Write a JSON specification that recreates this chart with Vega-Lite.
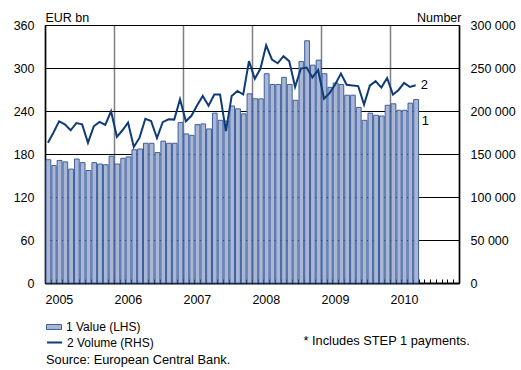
{
  "$schema": "https://vega.github.io/schema/vega-lite/v6.json",
  "autosize": "none",
  "padding": {"left": 45, "top": 25, "right": 62, "bottom": 87},
  "width": 414,
  "height": 258,
  "background": "white",
  "config": {
    "font": "Liberation Sans",
    "view": {"stroke": "#000", "strokeWidth": 1},
    "axis": {"labelFont": "Liberation Sans", "labelFontSize": 12.5, "labelColor": "#000", "titleFont": "Liberation Sans", "titleFontSize": 12.5, "titleFontWeight": "normal", "titleColor": "#000", "labelFlush": false, "labelBound": false},
    "legend": {"labelFont": "Liberation Sans", "labelFontSize": 12, "labelColor": "#000", "padding": 0}
  },
  "title": {"text": "Source: European Central Bank.", "orient": "bottom", "anchor": "start", "frame": "group", "font": "Liberation Sans", "fontSize": 12.8, "fontWeight": "normal", "color": "#000", "offset": 5, "dx": 1},
  "data": {"values": [
    {"month": "2005-01-01", "value": 172, "volume": 163000},
    {"month": "2005-02-01", "value": 164, "volume": 175000},
    {"month": "2005-03-01", "value": 171, "volume": 188000},
    {"month": "2005-04-01", "value": 169, "volume": 184500},
    {"month": "2005-05-01", "value": 159, "volume": 177600},
    {"month": "2005-06-01", "value": 173, "volume": 186000},
    {"month": "2005-07-01", "value": 168, "volume": 184500},
    {"month": "2005-08-01", "value": 157, "volume": 163000},
    {"month": "2005-09-01", "value": 168, "volume": 182200},
    {"month": "2005-10-01", "value": 166, "volume": 187400},
    {"month": "2005-11-01", "value": 165, "volume": 183800},
    {"month": "2005-12-01", "value": 177, "volume": 199700},
    {"month": "2006-01-01", "value": 166, "volume": 170000},
    {"month": "2006-02-01", "value": 174, "volume": 177600},
    {"month": "2006-03-01", "value": 176, "volume": 186500},
    {"month": "2006-04-01", "value": 186, "volume": 158200},
    {"month": "2006-05-01", "value": 187, "volume": 169000},
    {"month": "2006-06-01", "value": 195, "volume": 191000},
    {"month": "2006-07-01", "value": 195, "volume": 188400},
    {"month": "2006-08-01", "value": 182, "volume": 168600},
    {"month": "2006-09-01", "value": 198, "volume": 187000},
    {"month": "2006-10-01", "value": 195, "volume": 190300},
    {"month": "2006-11-01", "value": 195, "volume": 190000},
    {"month": "2006-12-01", "value": 224, "volume": 213600},
    {"month": "2007-01-01", "value": 208, "volume": 188000},
    {"month": "2007-02-01", "value": 206, "volume": 194400},
    {"month": "2007-03-01", "value": 221, "volume": 206400},
    {"month": "2007-04-01", "value": 222, "volume": 217500},
    {"month": "2007-05-01", "value": 215, "volume": 206200},
    {"month": "2007-06-01", "value": 237, "volume": 219200},
    {"month": "2007-07-01", "value": 227, "volume": 219200},
    {"month": "2007-08-01", "value": 226, "volume": 176600},
    {"month": "2007-09-01", "value": 247, "volume": 217500},
    {"month": "2007-10-01", "value": 243, "volume": 223300},
    {"month": "2007-11-01", "value": 236, "volume": 219200},
    {"month": "2007-12-01", "value": 264, "volume": 258000},
    {"month": "2008-01-01", "value": 257, "volume": 237500},
    {"month": "2008-02-01", "value": 257, "volume": 249300},
    {"month": "2008-03-01", "value": 292, "volume": 276400},
    {"month": "2008-04-01", "value": 277, "volume": 259900},
    {"month": "2008-05-01", "value": 277, "volume": 255500},
    {"month": "2008-06-01", "value": 287, "volume": 263800},
    {"month": "2008-07-01", "value": 277, "volume": 258000},
    {"month": "2008-08-01", "value": 255, "volume": 227900},
    {"month": "2008-09-01", "value": 309, "volume": 249300},
    {"month": "2008-10-01", "value": 338, "volume": 250500},
    {"month": "2008-11-01", "value": 304, "volume": 239000},
    {"month": "2008-12-01", "value": 311, "volume": 247500},
    {"month": "2009-01-01", "value": 292, "volume": 214200},
    {"month": "2009-02-01", "value": 273, "volume": 220800},
    {"month": "2009-03-01", "value": 279, "volume": 230900},
    {"month": "2009-04-01", "value": 277, "volume": 243500},
    {"month": "2009-05-01", "value": 262, "volume": 230500},
    {"month": "2009-06-01", "value": 262, "volume": 229700},
    {"month": "2009-07-01", "value": 245, "volume": 229000},
    {"month": "2009-08-01", "value": 227, "volume": 207400},
    {"month": "2009-09-01", "value": 237, "volume": 229500},
    {"month": "2009-10-01", "value": 234, "volume": 234700},
    {"month": "2009-11-01", "value": 233, "volume": 227200},
    {"month": "2009-12-01", "value": 248, "volume": 238400},
    {"month": "2010-01-01", "value": 250, "volume": 219000},
    {"month": "2010-02-01", "value": 241, "volume": 224500},
    {"month": "2010-03-01", "value": 241, "volume": 232600},
    {"month": "2010-04-01", "value": 251, "volume": 227900},
    {"month": "2010-05-01", "value": 256, "volume": 229900}
  ]},
  "layer": [
    {
      "mark": {"type": "bar", "stroke": "#3e5f9e", "strokeWidth": 1},
      "encoding": {
        "x": {"field": "month", "type": "temporal", "timeUnit": "utcyearmonth",
          "scale": {"type": "utc", "domain": [{"year": 2005, "month": 1, "date": 1, "utc": true}, {"year": 2011, "month": 1, "date": 1, "utc": true}]},
          "axis": {
            "title": "* Includes STEP 1 payments.",
            "titleAnchor": "start", "titleAlign": "left", "titleX": 258, "titleY": 61, "titleBaseline": "alphabetic", "titleFontSize": 12.8,
            "tickCount": {"interval": "month", "step": 1},
            "labelExpr": "utcmonth(datum.value) == 0 && utcyear(datum.value) < 2011 ? utcFormat(datum.value, '%Y') : ''",
            "labelAlign": "left", "labelOverlap": false, "labelPadding": 14,
            "grid": true, "gridColor": "#808080", "gridWidth": 1.5,
            "gridOpacity": {"condition": {"test": "utcmonth(datum.value) == 0", "value": 1}, "value": 0},
            "ticks": true, "tickSize": -4, "tickColor": "#000", "tickWidth": 1,
            "domainColor": "#000", "domainWidth": 2
          }
        },
        "y": {"field": "value", "type": "quantitative",
          "scale": {"domain": [0, 360], "nice": false},
          "axis": {"orient": "left", "values": [0, 60, 120, 180, 240, 300, 360],
            "title": "EUR bn", "titleAngle": 0, "titleAlign": "left", "titleAnchor": "end", "titleX": 0, "titleY": -4, "titleBaseline": "alphabetic",
            "ticks": false, "labelPadding": 11,
            "grid": true, "gridColor": "#000", "gridWidth": 1,
            "domainColor": "#000", "domainWidth": 1.5}
        },
        "fill": {"datum": "1 Value (LHS)", "type": "nominal",
          "scale": {"range": ["#a9b6d4"]},
          "legend": {"title": null, "orient": "none", "legendX": 1, "legendY": 294,
            "symbolType": "M-1,-0.33H1V0.33H-1Z", "symbolSize": 225, "symbolStrokeColor": "#3e5f9e", "symbolStrokeWidth": 1, "symbolOpacity": 1, "labelOffset": 4}
        }
      }
    },
    {
      "mark": {"type": "line", "strokeWidth": 2},
      "encoding": {
        "x": {"field": "month", "type": "temporal", "timeUnit": "utcyearmonth", "bandPosition": 0.5},
        "y": {"field": "volume", "type": "quantitative",
          "scale": {"domain": [0, 300000], "nice": false},
          "axis": {"orient": "right", "values": [0, 50000, 100000, 150000, 200000, 250000, 300000],
            "labelExpr": "datum.value == 0 ? '0' : format(datum.value / 1000, 'd') + ' 000'",
            "title": "Number", "titleAngle": 0, "titleAlign": "right", "titleAnchor": "end", "titleX": 2, "titleY": -4, "titleBaseline": "alphabetic",
            "ticks": false, "labelPadding": 11, "grid": false,
            "domainColor": "#000", "domainWidth": 1.5}
        },
        "stroke": {"datum": "2 Volume (RHS)", "type": "nominal",
          "scale": {"range": ["#0f3b76"]},
          "legend": {"title": null, "orient": "none", "legendX": 1, "legendY": 309,
            "symbolType": "stroke", "symbolSize": 225, "symbolStrokeWidth": 2, "labelOffset": 4}
        }
      }
    },
    {
      "transform": [{"filter": "utcyear(datum.month) == 2010 && utcmonth(datum.month) == 4"}],
      "mark": {"type": "text", "text": "1", "align": "left", "baseline": "middle", "dx": 6, "dy": 21, "fontSize": 13, "color": "#000"},
      "encoding": {
        "x": {"field": "month", "type": "temporal", "timeUnit": "utcyearmonth", "bandPosition": 0.5},
        "y": {"field": "value", "type": "quantitative", "scale": {"domain": [0, 360], "nice": false}, "axis": null}
      }
    },
    {
      "transform": [{"filter": "utcyear(datum.month) == 2010 && utcmonth(datum.month) == 4"}],
      "mark": {"type": "text", "text": "2", "align": "left", "baseline": "middle", "dx": 5, "dy": 0, "fontSize": 13, "color": "#000"},
      "encoding": {
        "x": {"field": "month", "type": "temporal", "timeUnit": "utcyearmonth", "bandPosition": 0.5},
        "y": {"field": "volume", "type": "quantitative", "scale": {"domain": [0, 300000], "nice": false}, "axis": null}
      }
    }
  ],
  "resolve": {"scale": {"y": "independent", "fill": "independent", "stroke": "independent"}, "legend": {"fill": "independent", "stroke": "independent"}}
}
